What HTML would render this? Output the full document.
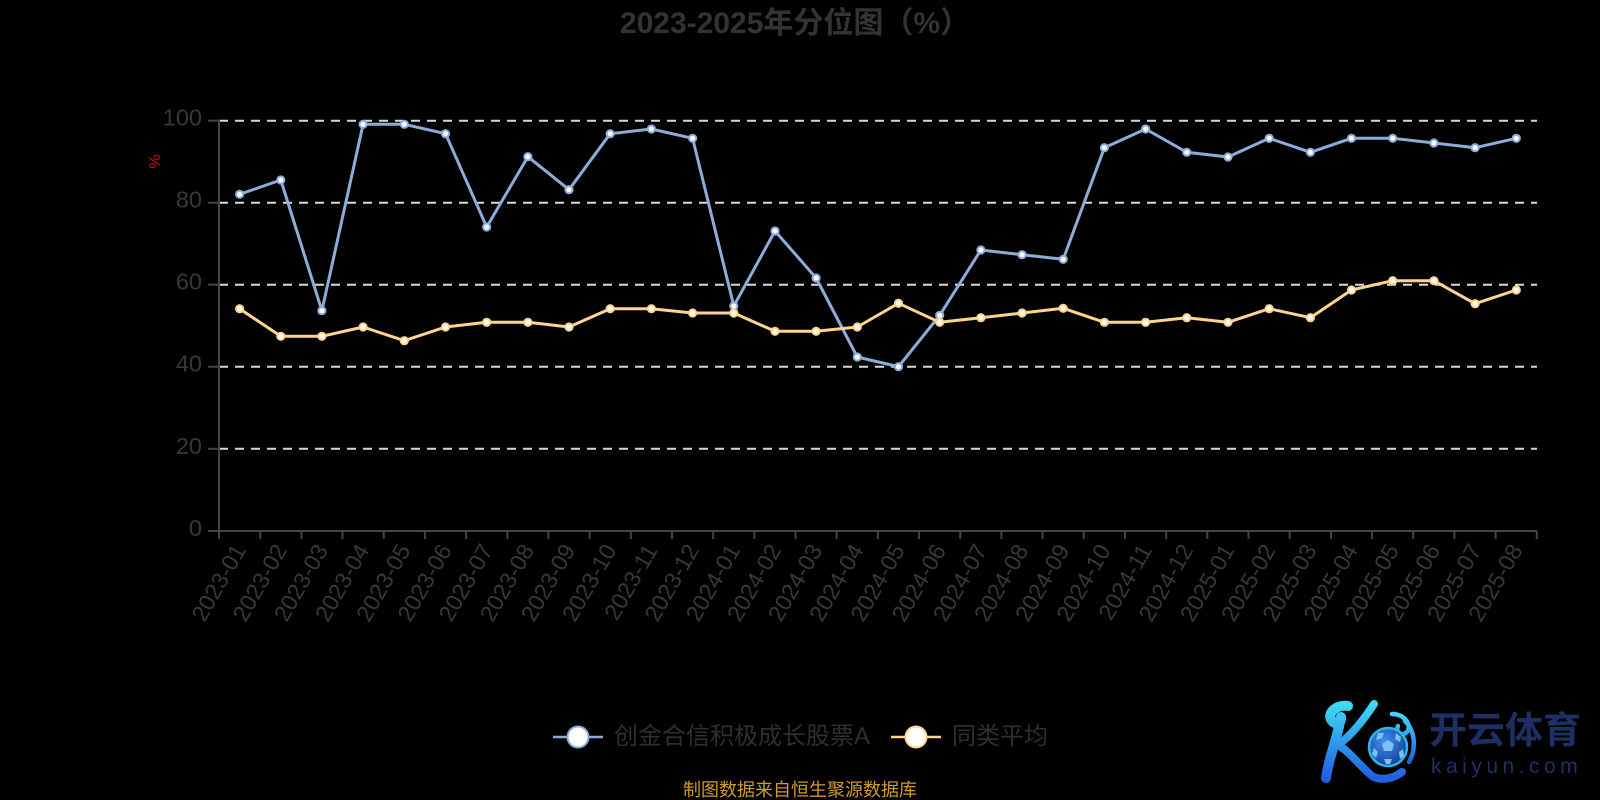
<!DOCTYPE html>
<html>
<head>
<meta charset="utf-8">
<style>
html,body{margin:0;padding:0;background:#000;}
body{width:1600px;height:800px;overflow:hidden;}
svg{display:block;}
text{font-family:"Liberation Sans","Noto Sans CJK SC",sans-serif;}
</style>
</head>
<body>
<svg width="1600" height="800" viewBox="0 0 1600 800" xmlns="http://www.w3.org/2000/svg">
<defs>
  <linearGradient id="kg" x1="0" y1="0" x2="0" y2="1">
    <stop offset="0" stop-color="#3fd8f5"/>
    <stop offset="1" stop-color="#1f5fe0"/>
  </linearGradient>
  <radialGradient id="bg" cx="0.4" cy="0.35" r="0.7">
    <stop offset="0" stop-color="#3f8fe8"/>
    <stop offset="1" stop-color="#143f9a"/>
  </radialGradient>
</defs>
<rect width="1600" height="800" fill="#000"/>

<!-- Title -->
<text x="795" y="33" text-anchor="middle" font-size="30" font-weight="bold" fill="#333">2023-2025年分位图（%）</text>

<!-- grid lines -->
<g stroke="#d9d9d9" stroke-width="2" stroke-dasharray="9 7" fill="none">
  <line x1="219" y1="120.7" x2="1537" y2="120.7"/>
  <line x1="219" y1="202.7" x2="1537" y2="202.7"/>
  <line x1="219" y1="284.7" x2="1537" y2="284.7"/>
  <line x1="219" y1="366.7" x2="1537" y2="366.7"/>
  <line x1="219" y1="448.8" x2="1537" y2="448.8"/>
</g>

<!-- axes -->
<g stroke="#444" stroke-width="2" fill="none">
  <line x1="219" y1="120" x2="219" y2="531"/>
  <line x1="218" y1="531" x2="1537" y2="531"/>
  <line x1="208" y1="120.7" x2="219" y2="120.7"/>
  <line x1="208" y1="202.7" x2="219" y2="202.7"/>
  <line x1="208" y1="284.7" x2="219" y2="284.7"/>
  <line x1="208" y1="366.7" x2="219" y2="366.7"/>
  <line x1="208" y1="448.8" x2="219" y2="448.8"/>
  <line x1="208" y1="531" x2="219" y2="531"/>
  <path d="M219 531v8 M260.2 531v8 M301.4 531v8 M342.5 531v8 M383.7 531v8 M424.9 531v8 M466.1 531v8 M507.3 531v8 M548.4 531v8 M589.6 531v8 M630.8 531v8 M672 531v8 M713.2 531v8 M754.3 531v8 M795.5 531v8 M836.7 531v8 M877.9 531v8 M919.1 531v8 M960.2 531v8 M1001.4 531v8 M1042.6 531v8 M1083.8 531v8 M1125 531v8 M1166.2 531v8 M1207.3 531v8 M1248.5 531v8 M1289.7 531v8 M1330.9 531v8 M1372.1 531v8 M1413.2 531v8 M1454.4 531v8 M1495.6 531v8 M1536.8 531v8"/>
</g>

<!-- y labels -->
<g font-size="23.5" fill="#383838" text-anchor="end">
  <text x="202" y="125.7">100</text>
  <text x="202" y="207.7">80</text>
  <text x="202" y="289.7">60</text>
  <text x="202" y="371.7">40</text>
  <text x="202" y="453.8">20</text>
  <text x="202" y="536">0</text>
</g>
<text transform="translate(155.5,161.5) rotate(-90)" font-size="16" fill="#e00000" text-anchor="middle" dominant-baseline="central">%</text>

<!-- x labels -->
<g font-size="23" fill="#383838" text-anchor="end" dominant-baseline="central">
  <text transform="translate(239.6,546) rotate(-60)">2023-01</text>
  <text transform="translate(280.8,546) rotate(-60)">2023-02</text>
  <text transform="translate(321.9,546) rotate(-60)">2023-03</text>
  <text transform="translate(363.1,546) rotate(-60)">2023-04</text>
  <text transform="translate(404.3,546) rotate(-60)">2023-05</text>
  <text transform="translate(445.5,546) rotate(-60)">2023-06</text>
  <text transform="translate(486.7,546) rotate(-60)">2023-07</text>
  <text transform="translate(527.9,546) rotate(-60)">2023-08</text>
  <text transform="translate(569,546) rotate(-60)">2023-09</text>
  <text transform="translate(610.2,546) rotate(-60)">2023-10</text>
  <text transform="translate(651.4,546) rotate(-60)">2023-11</text>
  <text transform="translate(692.6,546) rotate(-60)">2023-12</text>
  <text transform="translate(733.8,546) rotate(-60)">2024-01</text>
  <text transform="translate(775,546) rotate(-60)">2024-02</text>
  <text transform="translate(816.1,546) rotate(-60)">2024-03</text>
  <text transform="translate(857.3,546) rotate(-60)">2024-04</text>
  <text transform="translate(898.5,546) rotate(-60)">2024-05</text>
  <text transform="translate(939.7,546) rotate(-60)">2024-06</text>
  <text transform="translate(980.9,546) rotate(-60)">2024-07</text>
  <text transform="translate(1022.1,546) rotate(-60)">2024-08</text>
  <text transform="translate(1063.2,546) rotate(-60)">2024-09</text>
  <text transform="translate(1104.4,546) rotate(-60)">2024-10</text>
  <text transform="translate(1145.6,546) rotate(-60)">2024-11</text>
  <text transform="translate(1186.8,546) rotate(-60)">2024-12</text>
  <text transform="translate(1228,546) rotate(-60)">2025-01</text>
  <text transform="translate(1269.2,546) rotate(-60)">2025-02</text>
  <text transform="translate(1310.4,546) rotate(-60)">2025-03</text>
  <text transform="translate(1351.5,546) rotate(-60)">2025-04</text>
  <text transform="translate(1392.7,546) rotate(-60)">2025-05</text>
  <text transform="translate(1433.9,546) rotate(-60)">2025-06</text>
  <text transform="translate(1475.1,546) rotate(-60)">2025-07</text>
  <text transform="translate(1516.3,546) rotate(-60)">2025-08</text>
</g>

<!-- blue series -->
<polyline fill="none" stroke="#8cadda" stroke-width="3" stroke-linejoin="round" points="239.6,194.3 280.8,180 321.9,310.7 363.1,124.3 404.3,124.3 445.5,133.7 486.7,227 527.9,156.7 569,189.7 610.2,133.7 651.4,129 692.6,138.3 733.8,306 775,231 816.1,278 857.3,357 898.5,366.7 939.7,315.3 980.9,250 1022.1,254.7 1063.2,259.3 1104.4,147.7 1145.6,129 1186.8,152.3 1228,157 1269.2,138.3 1310.4,152.3 1351.5,138.3 1392.7,138.3 1433.9,143 1475.1,147.7 1516.3,138.3"/>
<g fill="#fff" stroke="#8cadda" stroke-width="2">
  <circle cx="239.6" cy="194.3" r="3.6"/><circle cx="280.8" cy="180" r="3.6"/><circle cx="321.9" cy="310.7" r="3.6"/><circle cx="363.1" cy="124.3" r="3.6"/><circle cx="404.3" cy="124.3" r="3.6"/><circle cx="445.5" cy="133.7" r="3.6"/><circle cx="486.7" cy="227" r="3.6"/><circle cx="527.9" cy="156.7" r="3.6"/><circle cx="569" cy="189.7" r="3.6"/><circle cx="610.2" cy="133.7" r="3.6"/><circle cx="651.4" cy="129" r="3.6"/><circle cx="692.6" cy="138.3" r="3.6"/><circle cx="733.8" cy="306" r="3.6"/><circle cx="775" cy="231" r="3.6"/><circle cx="816.1" cy="278" r="3.6"/><circle cx="857.3" cy="357" r="3.6"/><circle cx="898.5" cy="366.7" r="3.6"/><circle cx="939.7" cy="315.3" r="3.6"/><circle cx="980.9" cy="250" r="3.6"/><circle cx="1022.1" cy="254.7" r="3.6"/><circle cx="1063.2" cy="259.3" r="3.6"/><circle cx="1104.4" cy="147.7" r="3.6"/><circle cx="1145.6" cy="129" r="3.6"/><circle cx="1186.8" cy="152.3" r="3.6"/><circle cx="1228" cy="157" r="3.6"/><circle cx="1269.2" cy="138.3" r="3.6"/><circle cx="1310.4" cy="152.3" r="3.6"/><circle cx="1351.5" cy="138.3" r="3.6"/><circle cx="1392.7" cy="138.3" r="3.6"/><circle cx="1433.9" cy="143" r="3.6"/><circle cx="1475.1" cy="147.7" r="3.6"/><circle cx="1516.3" cy="138.3" r="3.6"/>
</g>

<!-- orange series -->
<polyline fill="none" stroke="#ffd48c" stroke-width="3" stroke-linejoin="round" points="239.6,308.7 280.8,336.3 321.9,336.3 363.1,327 404.3,340.7 445.5,327 486.7,322.3 527.9,322.3 569,327 610.2,308.7 651.4,308.7 692.6,313 733.8,313 775,331.3 816.1,331.3 857.3,327 898.5,303.3 939.7,322.3 980.9,317.7 1022.1,313 1063.2,308.3 1104.4,322.3 1145.6,322.3 1186.8,317.7 1228,322.3 1269.2,308.7 1310.4,317.7 1351.5,290 1392.7,280.7 1433.9,280.7 1475.1,303.7 1516.3,290"/>
<g fill="#fff" stroke="#ffd48c" stroke-width="2">
  <circle cx="239.6" cy="308.7" r="3.6"/><circle cx="280.8" cy="336.3" r="3.6"/><circle cx="321.9" cy="336.3" r="3.6"/><circle cx="363.1" cy="327" r="3.6"/><circle cx="404.3" cy="340.7" r="3.6"/><circle cx="445.5" cy="327" r="3.6"/><circle cx="486.7" cy="322.3" r="3.6"/><circle cx="527.9" cy="322.3" r="3.6"/><circle cx="569" cy="327" r="3.6"/><circle cx="610.2" cy="308.7" r="3.6"/><circle cx="651.4" cy="308.7" r="3.6"/><circle cx="692.6" cy="313" r="3.6"/><circle cx="733.8" cy="313" r="3.6"/><circle cx="775" cy="331.3" r="3.6"/><circle cx="816.1" cy="331.3" r="3.6"/><circle cx="857.3" cy="327" r="3.6"/><circle cx="898.5" cy="303.3" r="3.6"/><circle cx="939.7" cy="322.3" r="3.6"/><circle cx="980.9" cy="317.7" r="3.6"/><circle cx="1022.1" cy="313" r="3.6"/><circle cx="1063.2" cy="308.3" r="3.6"/><circle cx="1104.4" cy="322.3" r="3.6"/><circle cx="1145.6" cy="322.3" r="3.6"/><circle cx="1186.8" cy="317.7" r="3.6"/><circle cx="1228" cy="322.3" r="3.6"/><circle cx="1269.2" cy="308.7" r="3.6"/><circle cx="1310.4" cy="317.7" r="3.6"/><circle cx="1351.5" cy="290" r="3.6"/><circle cx="1392.7" cy="280.7" r="3.6"/><circle cx="1433.9" cy="280.7" r="3.6"/><circle cx="1475.1" cy="303.7" r="3.6"/><circle cx="1516.3" cy="290" r="3.6"/>
</g>

<!-- legend -->
<line x1="553" y1="737" x2="603" y2="737" stroke="#8cadda" stroke-width="2.5"/>
<circle cx="578" cy="737" r="10.5" fill="#fff" stroke="#8cadda" stroke-width="2"/>
<text x="614" y="744" font-size="24" fill="#2f2f2f">创金合信积极成长股票A</text>
<line x1="891" y1="737" x2="941" y2="737" stroke="#ffd48c" stroke-width="2.5"/>
<circle cx="916" cy="737" r="10.5" fill="#fff" stroke="#ffd48c" stroke-width="2"/>
<text x="952" y="744" font-size="24" fill="#2f2f2f">同类平均</text>

<!-- footer -->
<text x="800" y="796" font-size="18" fill="#cf9c2f" text-anchor="middle">制图数据来自恒生聚源数据库</text>

<!-- logo -->
<g>
  <path d="M1348 706 C1336 704 1326 714 1332 721 C1336 726 1342 722 1341 717 M1341 717 C1337 740 1328 760 1326 778" fill="none" stroke="url(#kg)" stroke-width="10" stroke-linecap="round"/>
  <path d="M1374 704 C1361 724 1349 737 1338 745 C1350 752 1358 764 1372 776 C1380 781 1393 779 1402 772" fill="none" stroke="url(#kg)" stroke-width="8" stroke-linecap="round"/>
  <path d="M1392 714 C1405 714 1412 725 1407 732 C1402 737 1395 732 1398 726 M1405 721 C1416 732 1416 750 1409 762" fill="none" stroke="url(#kg)" stroke-width="4.5" stroke-linecap="round"/>
  <circle cx="1388" cy="747" r="19" fill="url(#bg)" stroke="#2ab6ea" stroke-width="2.5"/>
  <polygon points="1388,740 1394,744 1392,751 1384,751 1382,744" fill="#7cc0f5"/>
  <polygon points="1378,733 1384,733 1382,738 1376,740" fill="#7cc0f5"/>
  <polygon points="1396,733 1401,737 1400,742 1395,739" fill="#7cc0f5"/>
  <polygon points="1374,748 1378,752 1376,758 1372,754" fill="#7cc0f5"/>
  <polygon points="1399,752 1403,749 1404,756 1400,759" fill="#7cc0f5"/>
  <polygon points="1384,759 1392,759 1390,764 1386,764" fill="#7cc0f5"/>
</g>
<text x="1429" y="743" font-size="37" font-weight="bold" fill="#1d2f63" textLength="152" lengthAdjust="spacingAndGlyphs">开云体育</text>
<text x="1431" y="773" font-size="21" fill="#1d2f63" letter-spacing="4.5">kaiyun.com</text>
</svg>
</body>
</html>
